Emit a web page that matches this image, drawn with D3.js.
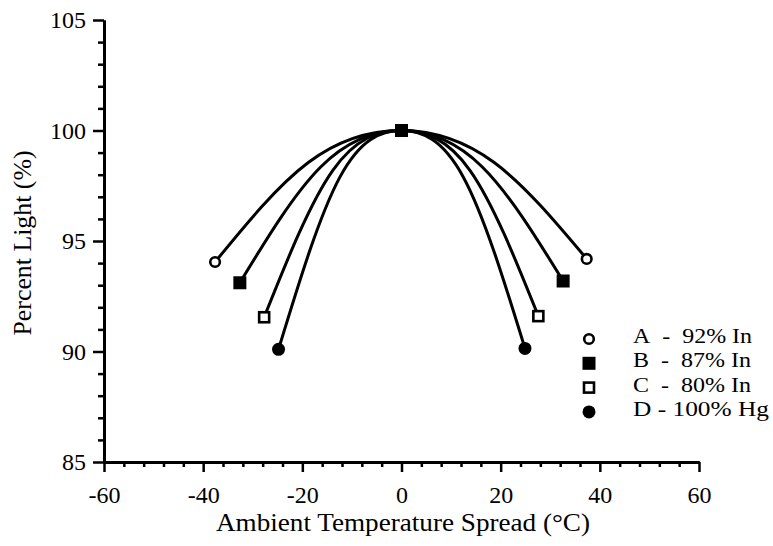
<!DOCTYPE html>
<html>
<head>
<meta charset="utf-8">
<script src="https://cdn.jsdelivr.net/npm/d3@7"></script>
<style>
  body { margin: 0; background: #fff; }
  svg { display: block; font-family: "Liberation Serif", "Times New Roman", Times, serif; }
  .axis .domain { stroke: #000; stroke-width: 3; }
  .axis line { stroke: #000; stroke-width: 2.5; }
  .axis text { font-family: "Liberation Serif", "Times New Roman", Times, serif; font-size: 24px; fill: #000; }
</style>
</head>
<body>
<script>
// ---------------------------------------------------------------------------
// DATA
// ---------------------------------------------------------------------------
const xMajorTicks = [-60, -40, -20, 0, 20, 40, 60];
const yMajorTicks = [85, 90, 95, 100, 105];

const seriesNames = ['A', 'B', 'C', 'D'];
const legendLabels = ['A\u00a0 -\u00a0 92% In', 'B\u00a0 -\u00a0 87% In', 'C\u00a0 -\u00a0 80% In', 'D - 100% Hg'];
const legendWidths = [119, 118, 118, 136];
const markerTypes = ['openCircle', 'filledSquare', 'openSquare', 'filledCircle'];

// [temperature spread, percent light]
const seriesA = [[-37.6, 94.05], [-18.8, 98.55], [0, 100], [18.7, 98.55], [37.35, 94.19]];
const seriesB = [[-32.6, 93.11], [-16.3, 98.35], [0, 100], [16.3, 98.35], [32.6, 93.19]];
const seriesC = [[-27.7, 91.55], [-13.85, 98.2], [0, 100], [13.8, 98.2], [27.6, 91.6]];
const seriesD = [[-24.8, 90.1], [-12.4, 97.9], [0, 100], [12.45, 97.9], [24.9, 90.14]];
const allSeries = [seriesA, seriesB, seriesC, seriesD];

// ---------------------------------------------------------------------------
// SET UP
// ---------------------------------------------------------------------------
const width = 773;
const height = 546;

const svg = d3.select('body').append('svg')
  .attr('width', width)
  .attr('height', height);

const x = d3.scaleLinear().domain([-60, 60]).range([104, 699]);
const y = d3.scaleLinear().domain([85, 105]).range([462, 20]);

// minor ticks every 4 degrees / every 1 percent
const xMinorTicks = d3.range(-60, 61, 4).filter(d => !xMajorTicks.includes(d));
const yMinorTicks = d3.range(85, 106, 1).filter(d => !yMajorTicks.includes(d));

// ---------------------------------------------------------------------------
// AXES
// ---------------------------------------------------------------------------
svg.append('g')
  .attr('class', 'axis')
  .attr('transform', `translate(0,${y(85)})`)
  .call(d3.axisBottom(x).tickValues(xMinorTicks).tickSize(5).tickSizeOuter(0).tickFormat(''));

svg.append('g')
  .attr('class', 'axis')
  .attr('transform', `translate(0,${y(85)})`)
  .call(d3.axisBottom(x).tickValues(xMajorTicks).tickSize(10).tickSizeOuter(0)
    .tickPadding(14).tickFormat(d => String(d)));

svg.append('g')
  .attr('class', 'axis')
  .attr('transform', `translate(${x(-60)},0)`)
  .call(d3.axisLeft(y).tickValues(yMinorTicks).tickSize(6).tickSizeOuter(0).tickFormat(''));

svg.append('g')
  .attr('class', 'axis')
  .attr('transform', `translate(${x(-60)},0)`)
  .call(d3.axisLeft(y).tickValues(yMajorTicks).tickSize(11).tickSizeOuter(0)
    .tickPadding(7).tickFormat(d => String(d)));

// axis titles
svg.append('text')
  .attr('x', 403)
  .attr('y', 531)
  .attr('text-anchor', 'middle')
  .attr('font-size', 25)
  .attr('textLength', 374)
  .attr('lengthAdjust', 'spacingAndGlyphs')
  .text('Ambient Temperature Spread (°C)');

svg.append('text')
  .attr('transform', 'translate(31,243) rotate(-90)')
  .attr('text-anchor', 'middle')
  .attr('font-size', 25)
  .attr('textLength', 185)
  .attr('lengthAdjust', 'spacingAndGlyphs')
  .text('Percent Light (%)');

// ---------------------------------------------------------------------------
// CURVES + MARKERS
// ---------------------------------------------------------------------------
const line = d3.line()
  .x(d => x(d[0]))
  .y(d => y(d[1]))
  .curve(d3.curveNatural);

svg.selectAll('path.curve')
  .data(allSeries)
  .enter()
  .append('path')
    .attr('class', 'curve')
    .attr('d', line)
    .attr('fill', 'none')
    .attr('stroke', '#000')
    .attr('stroke-width', 3);

function drawMarker(g, type, cx, cy) {
  if (type === 'openCircle') {
    g.append('circle').attr('cx', cx).attr('cy', cy).attr('r', 4.8)
      .attr('fill', '#fff').attr('stroke', '#000').attr('stroke-width', 2.6);
  } else if (type === 'filledCircle') {
    g.append('circle').attr('cx', cx).attr('cy', cy).attr('r', 6.5).attr('fill', '#000');
  } else if (type === 'filledSquare') {
    g.append('rect').attr('x', cx - 6.5).attr('y', cy - 6.5).attr('width', 13).attr('height', 13)
      .attr('fill', '#000');
  } else {
    g.append('rect').attr('x', cx - 5).attr('y', cy - 5).attr('width', 10).attr('height', 10)
      .attr('fill', '#fff').attr('stroke', '#000').attr('stroke-width', 2.6);
  }
}

// markers sit on the two ends and the shared apex; B drawn last so the apex is a filled square
const markerLayer = svg.append('g');
[0, 2, 3, 1].forEach((i) => {
  const pts = allSeries[i];
  pts.forEach((p, j) => {
    if (j === 0 || j === pts.length - 1 || p[0] === 0) {
      drawMarker(markerLayer, markerTypes[i], x(p[0]), y(p[1]));
    }
  });
});

// ---------------------------------------------------------------------------
// LEGEND
// ---------------------------------------------------------------------------
const legend = svg.append('g');
seriesNames.forEach((name, i) => {
  const baseline = 343 + i * 24.3;
  drawMarker(legend, markerTypes[i], 589, baseline - 4);
  legend.append('text')
    .attr('x', 633)
    .attr('y', baseline)
    .attr('font-size', 21.5)
    .attr('textLength', legendWidths[i])
    .attr('lengthAdjust', 'spacingAndGlyphs')
    .text(legendLabels[i]);
});
</script>
</body>
</html>
